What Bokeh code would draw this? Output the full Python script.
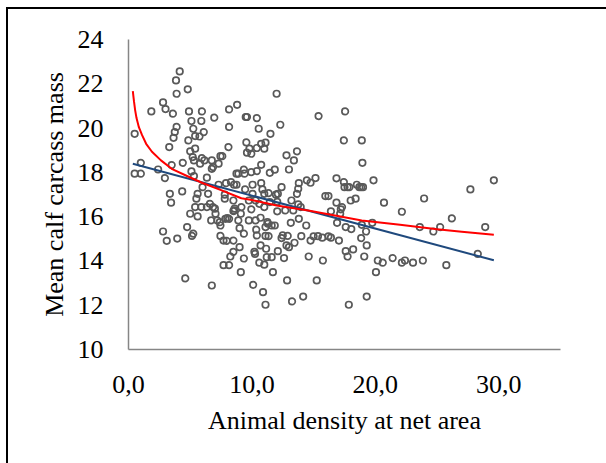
from bokeh.plotting import figure
from bokeh.models import Range1d, FixedTicker, ColumnDataSource
from bokeh.embed import file_html
from bokeh.resources import INLINE

# ---- data ----
density = [0.5, 0.5, 1.0, 1.0, 1.85, 2.4, 2.8, 3.0, 3.6, 2.8, 3.1, 2.95, 3.3, 3.35, 3.45, 3.5, 3.65, 3.75,
           3.9, 3.85, 4.15, 3.9, 4.8, 3.95, 4.35, 4.4, 4.6, 4.75, 4.9, 4.85, 5.0, 5.1, 5.25, 5.0, 5.15, 5.25,
           5.1, 5.3, 5.2, 5.3, 5.4, 5.4, 5.6, 5.4, 5.5, 5.6, 5.75, 5.9, 5.95, 5.8, 5.95, 6.1, 6.15, 5.9, 6.0,
           6.35, 6.45, 6.35, 6.6, 6.75, 6.75, 6.85, 6.95, 6.85, 7.0, 6.7, 6.75, 7.05, 7.3, 7.3, 7.45, 7.6,
           7.2, 7.4, 7.45, 7.45, 7.7, 7.8, 7.8, 7.9, 8.0, 8.15, 7.85, 7.7, 8.15, 7.95, 8.15, 8.15, 8.1, 8.3,
           8.55, 8.5, 8.5, 8.55, 8.6, 8.5, 8.25, 8.5, 8.8, 8.75, 8.9, 8.75, 8.9, 9.0, 9.0, 9.1, 9.1, 9.15,
           9.35, 9.4, 9.35, 9.35, 9.45, 9.55, 9.5, 9.6, 9.6, 9.75, 9.75, 9.8, 9.95, 9.95, 10.05, 10.05, 9.95,
           10.1, 10.2, 10.25, 10.3, 10.3, 10.35, 10.4, 10.4, 10.4, 10.4, 10.55, 10.6, 10.6, 10.7, 10.7, 10.75,
           10.75, 10.75, 10.85, 10.9, 11.0, 11.1, 11.1, 11.0, 11.0, 11.1, 11.1, 11.15, 11.0, 11.2, 11.25,
           11.3, 11.35, 11.35, 11.45, 11.45, 11.5, 11.6, 11.7, 11.6, 11.85, 11.85, 11.95, 12.0, 12.05, 12.1,
           12.05, 12.1, 12.3, 12.4, 12.4, 12.5, 12.6, 12.7, 12.8, 12.8, 12.85, 12.9, 13.0, 13.0, 13.2, 13.15,
           13.25, 13.35, 13.4, 13.45, 13.65, 13.65, 13.75, 13.8, 13.75, 13.8, 13.95, 14.0, 14.15, 14.4, 14.45,
           14.6, 14.75, 14.75, 15.15, 15.0, 15.25, 15.35, 15.4, 15.7, 15.75, 15.95, 16.2, 16.2, 16.4, 16.4,
           16.85, 16.85, 16.9, 17.05, 17.15, 17.2, 17.3, 17.45, 17.55, 17.45, 17.5, 17.6, 17.75, 17.6, 17.75,
           17.9, 17.85, 18.0, 18.05, 18.2, 18.4, 18.5, 18.7, 18.85, 19.0, 18.9, 18.95, 18.85, 18.9, 19.1,
           19.25, 19.3, 19.3, 19.75, 19.85, 20.05, 20.2, 20.6, 20.7, 21.4, 22.15, 22.15, 22.4, 23.05, 23.6,
           23.85, 23.95, 24.7, 25.25, 25.75, 26.2, 27.7, 28.3, 28.9, 29.6]
carcass_mass = [19.74, 17.94, 17.94, 18.43, 20.75, 18.13, 21.16, 20.86, 20.65, 15.33, 14.91, 17.74, 19.14,
                17.03, 16.63, 18.33, 19.56, 19.82, 20.05, 22.15, 22.56, 21.55, 21.75, 15.01, 17.14, 18.43,
                13.21, 15.53, 20.75, 19.44, 18.95, 20.32, 19.97, 16.13, 15.13, 15.23, 18.04, 17.83, 18.69,
                18.54, 19.07, 19.64, 16.01, 16.43, 16.81, 17.03, 19.62, 20.32, 20.75, 18.39, 18.64, 19.82,
                18.54, 16.43, 17.33, 17.76, 17.03, 16.43, 16.58, 18.54, 18.16, 18.24, 20.47, 16.43, 16.36,
                15.83, 12.89, 16.13, 17.44, 18.39, 18.73, 18.73, 15.83, 15.75, 15.6, 15.13, 14.92, 16.99,
                16.81, 17.51, 15.93, 15.9, 15.9, 13.81, 13.81, 14.91, 20.05, 20.84, 19.14, 17.56, 17.44,
                16.73, 16.25, 16.28, 16.36, 14.92, 14.2, 14.41, 21.05, 17.94, 17.94, 17.44, 15.83, 15.48,
                14.62, 13.49, 16.13, 16.43, 18.12, 17.94, 15.23, 14.11, 17.23, 19.35, 20.5, 20.5, 18.89,
                15.83, 16.73, 19.07, 18.84, 18.01, 17.44, 17.03, 16.33, 12.92, 14.41, 14.32, 16.73, 15.83,
                15.41, 15.15, 20.45, 19.1, 18.06, 19.97, 16.58, 13.92, 15.95, 14.7, 19.29, 18.34, 17.51,
                17.23, 12.59, 19.07, 19.34, 12.02, 17.03, 16.43, 15.53, 15.13, 14.55, 13.83, 14.17, 15.75,
                15.68, 17.06, 15.12, 16.66, 17.98, 19.74, 14.17, 13.49, 15.6, 15.6, 18.12, 16.99, 21.55,
                16.24, 14.44, 16.67, 17.03, 20.15, 17.33, 15.03, 15.15, 14.13, 16.28, 18.77, 14.7, 13.12,
                15.13, 14.62, 18.13, 16.73, 15.72, 12.17, 16.28, 18.54, 14.82, 18.95, 17.03, 17.26, 17.51,
                16.55, 15.9, 16.43, 15.12, 12.39, 15.6, 17.64, 14.2, 14.92, 17.53, 17.74, 15.11, 13.12,
                15.12, 20.54, 15.05, 14.02, 16.93, 16.93, 15.11, 15.05, 16.24, 17.73, 16.63, 15.72, 14.92,
                16.13, 16.33, 16.43, 19.44, 20.75, 17.56, 17.33, 15.53, 14.2, 14.44, 17.33, 17.33, 12.02,
                16.73, 15.44, 14.52, 16.81, 17.44, 17.33, 17.33, 17.33, 19.44, 18.43, 15.03, 15.63, 14.2,
                15.33, 14.7, 12.39, 15.72, 17.64, 13.49, 14.02, 13.92, 16.63, 14.13, 16.22, 13.92, 14.02,
                13.92, 15.53, 14.02, 16.82, 15.33, 15.53, 13.81, 15.92, 17.23, 14.32, 15.53, 17.64]

# red trend curve
red_x = [0.35, 0.40, 0.45, 0.54, 0.65, 0.84, 1.1, 1.43, 1.9, 2.63, 3.5, 4.96, 6.0, 7.5, 9.14, 10.0,
         12.0, 14.56, 18.9, 22.0, 25.0, 27.0, 29.6]
red_y = [21.67, 21.42, 21.18, 20.8, 20.45, 20.04, 19.68, 19.29, 18.93, 18.54, 18.16, 17.78, 17.52,
         17.2, 16.83, 16.75, 16.5, 16.28, 15.83, 15.63, 15.43, 15.32, 15.18]
# blue linear trend, endpoints
blue_x = [0.35, 29.6]
blue_y = [18.39, 14.03]

x_ticks = [0, 10, 20, 30]
x_tick_labels = ["0,0", "10,0", "20,0", "30,0"]
y_ticks = [10, 12, 14, 16, 18, 20, 22, 24]

x_title = "Animal density at net area"
y_title = "Mean calf carcass mass"

FONT = "Liberation Serif"

p = figure(width=620, height=480, output_backend="svg", toolbar_location=None,
           x_range=Range1d(0, 35), y_range=Range1d(10, 24))
p.margin = (7, 0, 0, 6)
p.styles = {"border-left": "2px solid #000000", "border-top": "2px solid #000000"}
p.min_border_left = 120
p.min_border_right = 68
p.min_border_top = 30
p.min_border_bottom = 140
p.outline_line_color = None
p.background_fill_color = "white"
p.border_fill_color = "white"
p.xgrid.grid_line_color = None
p.ygrid.grid_line_color = None

src = ColumnDataSource(dict(x=density, y=carcass_mass))
p.scatter("x", "y", source=src, marker="circle", size=6.5, fill_color=None,
          line_color="#595959", line_width=1.7)
p.line(blue_x, blue_y, line_color="#1F497D", line_width=2)
p.line(red_x, red_y, line_color="#FF0000", line_width=2)

for ax in (p.xaxis[0], p.yaxis[0]):
    ax.axis_line_color = "#868686"
    ax.axis_line_width = 1.5
    ax.major_tick_line_color = None
    ax.minor_tick_line_color = None
    ax.major_label_text_font = FONT
    ax.major_label_text_font_size = "26px"
    ax.major_label_text_color = "#000000"
    ax.axis_label_text_font = FONT
    ax.axis_label_text_font_size = "26px"
    ax.axis_label_text_font_style = "normal"
    ax.axis_label_text_color = "#000000"

p.xaxis[0].major_label_standoff = 20
p.yaxis[0].major_label_standoff = 19
p.xaxis[0].ticker = FixedTicker(ticks=x_ticks)
p.xaxis[0].major_label_overrides = dict(zip(x_ticks, x_tick_labels))
p.yaxis[0].ticker = FixedTicker(ticks=y_ticks)
p.xaxis[0].axis_label = x_title
p.yaxis[0].axis_label = y_title
p.xaxis[0].axis_label_standoff = 10
p.yaxis[0].axis_label_standoff = 6

open("out.html", "w").write(file_html(p, INLINE))
